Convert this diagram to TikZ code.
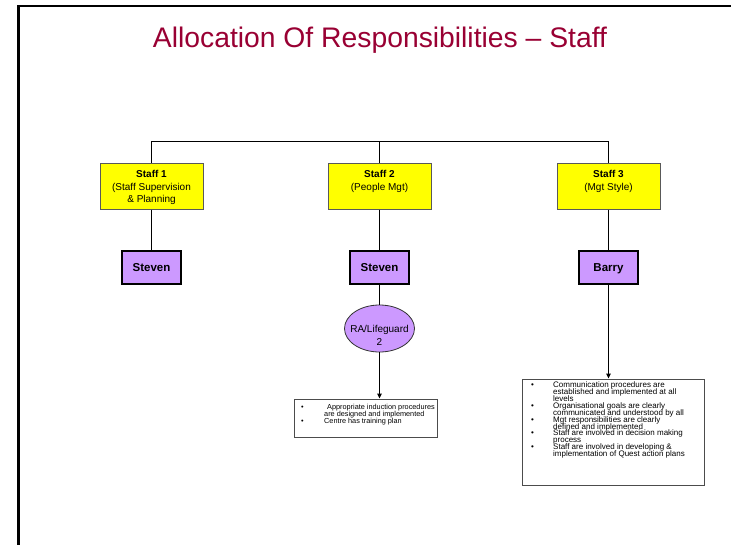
\documentclass[tikz,border=0pt]{standalone}
\usepackage{fontspec}
\setmainfont{Liberation Sans}
\usetikzlibrary{shapes.geometric,arrows.meta}
\definecolor{titlered}{RGB}{153,0,51}
\definecolor{staffyellow}{RGB}{255,255,0}
\definecolor{personpurple}{RGB}{204,153,255}
\newcommand{\bulletline}[2]{\makebox[#1][l]{\textbullet}#2}
\newcommand{\contline}[2]{\hspace*{#1}#2}
\begin{document}
\begin{tikzpicture}[x=1pt,y=-1pt,
  staffbox/.style={draw=black!65, line width=1pt, fill=staffyellow, minimum width=103pt, minimum height=46pt, inner sep=0pt},
  stafftext/.style={anchor=base, inner sep=0pt, font=\fontsize{10}{12.7}\selectfont},
  personbox/.style={draw=black, line width=1.8pt, fill=personpurple, minimum width=59pt, minimum height=33pt, inner sep=0pt, text height=8.2pt, text depth=0pt, font=\fontsize{11.5}{13}\selectfont\bfseries},
  roleoval/.style={ellipse, draw=black!80, line width=0.8pt, fill=personpurple, minimum width=70pt, minimum height=47pt, inner sep=0pt},
  roletext/.style={anchor=base, inner sep=0pt, font=\fontsize{10}{12.7}\selectfont},
  listbox/.style={draw=black!70, line width=1pt, fill=white, inner sep=0pt},
  listtext/.style={anchor=base west, inner sep=0pt},
  link/.style={draw=black, line width=1pt},
  arrowlink/.style={link, -{Triangle[length=5pt,width=4.5pt]}},
  titletext/.style={anchor=base, inner sep=0pt, text=titlered, font=\fontsize{28.3}{32}\selectfont}
]
\useasboundingbox (0,0) rectangle (731,544);
\fill[white] (0,0) rectangle (731,544);
\draw[line width=2.2pt] (18.5,546) -- (18.5,6) -- (733,6);

\node[titletext] (title) at (380,47) {Allocation Of Responsibilities – Staff};

% staff boxes
\node[staffbox] (s1) at (151.5,186) {};
\node[staffbox] (s2) at (379.5,186) {};
\node[staffbox] (s3) at (608.5,186) {};
\node[stafftext] (s1t) at (151.5,177.3) {\begin{tabular}[t]{@{}c@{}}\textbf{Staff 1}\\(Staff Supervision\\\& Planning\end{tabular}};
\node[stafftext] (s2t) at (379.5,177.3) {\begin{tabular}[t]{@{}c@{}}\textbf{Staff 2}\\(People Mgt)\end{tabular}};
\node[stafftext] (s3t) at (608.5,177.3) {\begin{tabular}[t]{@{}c@{}}\textbf{Staff 3}\\(Mgt Style)\end{tabular}};

% person boxes
\node[personbox] (p1) at (151.5,267.5) {Steven};
\node[personbox] (p2) at (379.5,267.5) {Steven};
\node[personbox] (p3) at (608.5,267.5) {Barry};

% role oval
\node[roleoval] (r2) at (379.5,328.5) {};
\node[roletext] (r2t) at (379.5,332.6) {\begin{tabular}[t]{@{}c@{}}RA/Lifeguard\\2\end{tabular}};

% list boxes
\node[listbox, minimum width=143pt, minimum height=38pt] (l2) at (365.5,418) {};
\node[listbox, minimum width=182pt, minimum height=106pt] (l3) at (613,432) {};
\node[listtext] (l2t) at (301,409.6) {\parbox[t]{140pt}{\fontsize{7.3}{6.85}\selectfont\lineskiplimit=-20pt\raggedright
\bulletline{23pt}{\hspace{3pt}Appropriate induction procedures}\\
\contline{23pt}{are designed and implemented}\\
\bulletline{23pt}{Centre has training plan}}};
\node[listtext] (l3t) at (531,387.2) {\parbox[t]{180pt}{\fontsize{8}{6.97}\selectfont\lineskiplimit=-20pt\raggedright
\bulletline{22pt}{Communication procedures are}\\
\contline{22pt}{established and implemented at all}\\
\contline{22pt}{levels}\\
\bulletline{22pt}{Organisational goals are clearly}\\
\contline{22pt}{communicated and understood by all}\\
\bulletline{22pt}{Mgt responsibilities are clearly}\\
\contline{22pt}{defined and implemented}\\
\bulletline{22pt}{Staff are involved in decision making}\\
\contline{22pt}{process}\\
\bulletline{22pt}{Staff are involved in developing \&}\\
\contline{22pt}{implementation of Quest action plans}}};

% connectors
\coordinate (bus) at (379.5,141.5);
\draw[link] (s1.north) |- (bus) -| (s3.north);
\draw[link] (s2.north) -- (bus);
\draw[link] (s1.south) -- (p1.north);
\draw[link] (s2.south) -- (p2.north);
\draw[link] (s3.south) -- (p3.north);
\draw[link] (p2.south) -- (r2.north);
\draw[arrowlink] (r2.south) -- (r2.south |- l2.north);
\draw[arrowlink] (p3.south) -- (p3.south |- l3.north);
\end{tikzpicture}
\end{document}
